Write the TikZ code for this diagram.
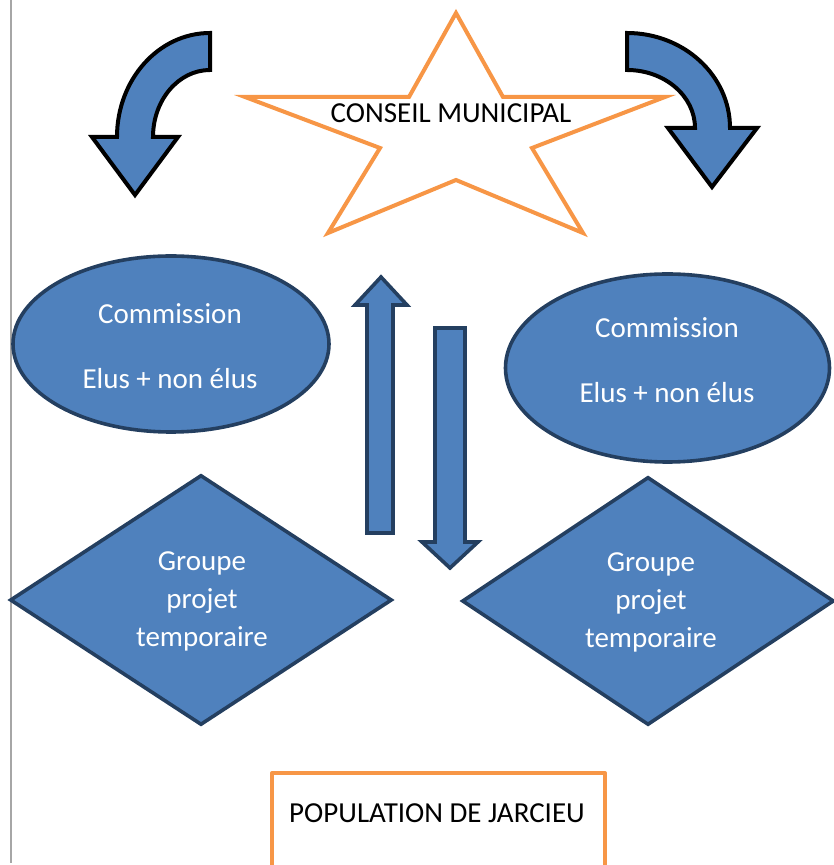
\documentclass[tikz,border=0pt]{standalone}
\usepackage{fontspec}
\setmainfont{Carlito}
\usetikzlibrary{shapes.geometric}
\definecolor{bleu}{HTML}{4F81BD}
\definecolor{bleufonce}{HTML}{243F60}
\definecolor{orangeCM}{HTML}{F79646}
\begin{document}
\begin{tikzpicture}[x=1pt,y=1pt]
  \tikzstyle{every node}=[font=\fontsize{29}{38}\selectfont]
  \tikzstyle{bloc}=[fill=bleu,draw=bleufonce,line width=3.6pt]
  \tikzstyle{courbe}=[fill=bleu,draw=black,line width=4pt]
  \tikzstyle{cadre}=[draw=orangeCM,line width=4pt]
  \tikzstyle{blanc}=[text=white,align=center,inner sep=0pt]
  \useasboundingbox (0,0) rectangle (833,865);
  \draw[gray!70,line width=1.2pt](11,865)--(11,2);
  % etoile du conseil
  \draw[cadre,fill=white](456,852)--(503,768)--(665,768)--(532,717)--(583,632)--(456,685)--(328,632)--(380,717)--(245,768)--(409,768)--cycle;
  \node[inner sep=0pt,anchor=base] (conseil) at (451,742) {CONSEIL MUNICIPAL};
  % fleches courbes
  \draw[courbe](210,832) arc[start angle=90,end angle=180,x radius=93,y radius=104]--(92,728)--(135,670)--(178,728)--(153,728) arc[start angle=180,end angle=90,x radius=57,y radius=67]--cycle;
  \draw[courbe](627,832) arc[start angle=90,end angle=0,x radius=103,y radius=95]--(757,737)--(712,678)--(668,737)--(695,737) arc[start angle=0,end angle=90,x radius=68,y radius=58]--cycle;
  % fleches droites
  \draw[bloc](367,332)--(367,560)--(355,560)--(381,588)--(407,560)--(393,560)--(393,332)--cycle;
  \draw[bloc](435,537)--(465,537)--(465,323)--(478,323)--(450,297)--(422,323)--(435,323)--cycle;
  % commissions
  \node[bloc,ellipse,inner sep=0pt,minimum width=316pt,minimum height=176pt] (comG) at (171,521) {};
  \node[bloc,ellipse,inner sep=0pt,minimum width=324pt,minimum height=188pt] (comD) at (667.5,497) {};
  \node[blanc,font=\fontsize{29}{65}\selectfont] (comGtxt) at (170,519) {Commission\\Elus + non élus};
  \node[blanc,font=\fontsize{29}{65}\selectfont] (comDtxt) at (667,505) {Commission\\Elus + non élus};
  % groupes projet
  \node[bloc,diamond,inner sep=0pt,minimum width=382pt,minimum height=250pt] (grpG) at (201,265) {};
  \node[bloc,diamond,inner sep=0pt,minimum width=372pt,minimum height=248pt] (grpD) at (648,264) {};
  \node[blanc] (grpGtxt) at (202,264) {Groupe\\projet\\temporaire};
  \node[blanc] (grpDtxt) at (651,263) {Groupe\\projet\\temporaire};
  % population
  \draw[cadre,line join=round](272,-5)--(272,92)--(605,92)--(605,-5);
  \node[inner sep=0pt,anchor=base] (popu) at (437,42) {POPULATION DE JARCIEU};
\end{tikzpicture}
\end{document}
